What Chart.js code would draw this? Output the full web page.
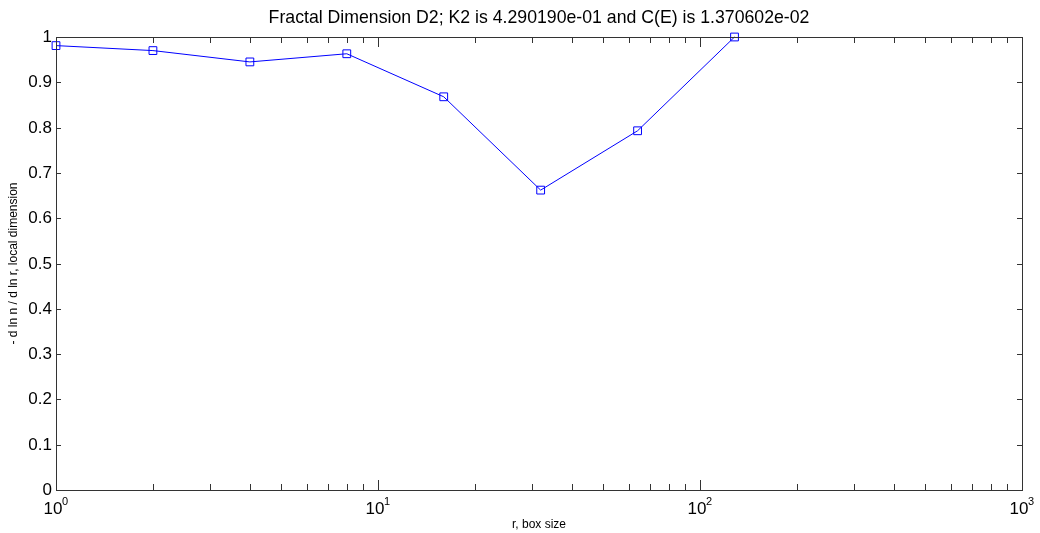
<!DOCTYPE html>
<html>
<head>
<meta charset="utf-8">
<script src="https://cdn.jsdelivr.net/npm/chart.js@4.4.1/dist/chart.umd.min.js"></script>
<style>
html,body{margin:0;padding:0;background:#fff;}
#wrap{width:1040px;height:533px;position:relative;}
</style>
</head>
<body>
<div id="wrap"><canvas id="c" width="1040" height="533"></canvas></div>
<script>
const boxSizes = [1, 2, 4, 8, 16, 32, 64, 128];
const localDim = [0.981, 0.970, 0.945, 0.963, 0.868, 0.662, 0.793, 1.0];
const yTicks = [0, 0.1, 0.2, 0.3, 0.4, 0.5, 0.6, 0.7, 0.8, 0.9, 1];
const yTickLabels = ['0', '0.1', '0.2', '0.3', '0.4', '0.5', '0.6', '0.7', '0.8', '0.9', '1'];
const xDecades = [1, 10, 100, 1000];
const xDecadeExps = ['0', '1', '2', '3'];
const titleText = 'Fractal Dimension D2; K2 is 4.290190e-01 and C(E) is 1.370602e-02';
const xTitle = 'r, box size';
const yTitle = '- d ln n / d ln r, local dimension';

const FONT = '"Liberation Sans", Arial, sans-serif';

const matlabAxes = {
  id: 'matlabAxes',
  afterDraw(chart) {
    const ctx = chart.ctx;
    const a = chart.chartArea;
    const xs = chart.scales.x, ys = chart.scales.y;
    ctx.save();
    ctx.strokeStyle = '#333';
    ctx.lineWidth = 1;
    // frame
    ctx.strokeRect(Math.round(a.left) + 0.5, Math.round(a.top) + 0.5,
      Math.round(a.right - a.left), Math.round(a.bottom - a.top));
    // y ticks
    ctx.fillStyle = '#000';
    ctx.font = '17px ' + FONT;
    ctx.textAlign = 'right';
    ctx.textBaseline = 'middle';
    yTicks.forEach((v, i) => {
      const y = Math.round(ys.getPixelForValue(v)) + 0.5;
      ctx.beginPath();
      ctx.moveTo(a.left, y); ctx.lineTo(a.left + 5, y);
      ctx.moveTo(a.right, y); ctx.lineTo(a.right - 5, y);
      ctx.stroke();
      ctx.fillText(yTickLabels[i], a.left - 4, y);
    });
    // x ticks (log)
    for (let d = 0; d < xDecades.length; d++) {
      const base = xDecades[d];
      const maxM = d === xDecades.length - 1 ? 1 : 9;
      for (let m = 1; m <= maxM; m++) {
        const v = base * m;
        const x = Math.round(xs.getPixelForValue(v)) + 0.5;
        const len = m === 1 ? 10 : 6;
        ctx.beginPath();
        ctx.moveTo(x, a.bottom); ctx.lineTo(x, a.bottom - len);
        ctx.moveTo(x, a.top); ctx.lineTo(x, a.top + len);
        ctx.stroke();
      }
    }
    // x labels 10^k
    xDecades.forEach((v, i) => {
      const x = xs.getPixelForValue(v);
      ctx.font = '17px ' + FONT;
      ctx.textAlign = 'center';
      ctx.textBaseline = 'alphabetic';
      ctx.fillText('10', x - 3, a.bottom + 24);
      ctx.font = '11px ' + FONT;
      ctx.textAlign = 'left';
      ctx.fillText(xDecadeExps[i], x + 6, a.bottom + 15);
    });
    // titles
    ctx.font = '17.7px ' + FONT;
    ctx.textAlign = 'center';
    ctx.textBaseline = 'alphabetic';
    const cx = (a.left + a.right) / 2;
    ctx.fillText(titleText, cx, 23);
    ctx.font = '12px ' + FONT;
    ctx.fillText(xTitle, cx, 528);
    ctx.save();
    ctx.translate(14, (a.top + a.bottom) / 2);
    ctx.rotate(-Math.PI / 2);
    ctx.textBaseline = 'middle';
    ctx.fillText(yTitle, 0, 0);
    ctx.restore();
    ctx.restore();
  }
};

new Chart(document.getElementById('c'), {
  type: 'line',
  data: {
    datasets: [{
      data: boxSizes.map((x, i) => ({ x: x, y: localDim[i] })),
      borderColor: '#0000ff',
      borderWidth: 1,
      backgroundColor: 'rgba(0,0,0,0)',
      pointStyle: 'rect',
      pointRadius: 5.5,
      pointBorderWidth: 1,
      pointBorderColor: '#0000ff',
      pointBackgroundColor: 'rgba(0,0,0,0)',
      tension: 0,
      clip: false
    }]
  },
  options: {
    responsive: false,
    animation: false,
    devicePixelRatio: 1,
    layout: { padding: { left: 56, right: 18, top: 37, bottom: 43 } },
    plugins: { legend: { display: false }, tooltip: { enabled: false }, title: { display: false } },
    scales: {
      x: {
        type: 'logarithmic', min: 1, max: 1000,
        ticks: { display: false },
        grid: { display: false, drawTicks: false },
        border: { display: false },
        afterFit(s) { s.height = 0; }
      },
      y: {
        type: 'linear', min: 0, max: 1,
        ticks: { display: false },
        grid: { display: false, drawTicks: false },
        border: { display: false },
        afterFit(s) { s.width = 0; }
      }
    }
  },
  plugins: [matlabAxes]
});
</script>
</body>
</html>
